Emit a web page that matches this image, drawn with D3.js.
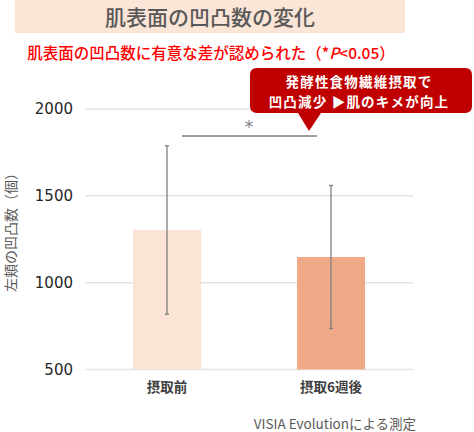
<!DOCTYPE html>
<html><head><meta charset="utf-8">
<script src="https://cdn.jsdelivr.net/npm/d3@7"></script>
<style>body{margin:0;background:#fff;font-family:"Noto Sans CJK JP","Noto Sans",sans-serif}</style>
</head><body><div id="chart"></div>
<script>
const categories = ["摂取前", "摂取6週後"];
const means = [1303, 1148];
const sds = [485, 412];
const yTicks = [500, 1000, 1500, 2000];
const barColors = ["#fbe3d6", "#f0a986"];
const titleText = "肌表面の凹凸数の変化";
const subtitleParts = ["肌表面の凹凸数に有意な差が認められた（*", "P", "<0.05）"];
const calloutLines = ["発酵性食物繊維摂取で", "凹凸減少 ▶肌のキメが向上"];
const yLabel = "左頬の凹凸数（個）";
const footer = "VISIA Evolutionによる測定";

const W = 474, H = 432;
const svg = d3.select("#chart").append("svg").attr("width", W).attr("height", H);
const font = '"Noto Sans CJK JP","Noto Sans",sans-serif';
const numFont = '"DejaVu Sans",sans-serif';

// Title
svg.append("rect").attr("x", 15).attr("y", 0).attr("width", 390).attr("height", 33).attr("fill", "#fbe5d6");
svg.append("text").attr("x", 210).attr("y", 25).attr("text-anchor", "middle")
  .attr("font-family", font).attr("font-size", 21).attr("font-weight", 500).attr("fill", "#595959").text(titleText);

// Subtitle
const st = svg.append("text").attr("x", 211).attr("y", 59).attr("text-anchor", "middle")
  .attr("font-family", font).attr("font-size", 15.5).attr("font-weight", 500).attr("fill", "#ff0000");
st.append("tspan").text(subtitleParts[0]);
st.append("tspan").attr("font-style", "italic").text(subtitleParts[1]);
st.append("tspan").text(subtitleParts[2]);

// Scales
const y = d3.scaleLinear().domain([500, 2000]).range([369.5, 109]);
const x = d3.scaleBand().domain(categories).range([85, 413]).paddingInner(0.585).paddingOuter(0.2925);

// Grid
svg.append("g").selectAll("line").data(yTicks).join("line")
  .attr("x1", 85).attr("x2", 413).attr("y1", d => y(d)).attr("y2", d => y(d))
  .attr("stroke", "#e3e3e3").attr("stroke-width", 1.5);

// Y axis tick labels
const yAxis = d3.axisLeft(y).tickValues(yTicks).tickSize(0).tickPadding(0).tickFormat(d3.format("d"));
const ga = svg.append("g").attr("transform", "translate(73,0)").call(yAxis);
ga.select(".domain").remove();
ga.selectAll("text").attr("font-family", numFont).attr("font-size", 15).attr("fill", "#262626");

// Y label
svg.append("text").attr("transform", "translate(16,229) rotate(-90)").attr("text-anchor", "middle")
  .attr("font-family", font).attr("font-size", 14).attr("fill", "#595959").text(yLabel);

// Bars
svg.append("g").selectAll("rect").data(categories).join("rect")
  .attr("x", d => x(d)).attr("width", x.bandwidth())
  .attr("y", (d, i) => y(means[i])).attr("height", (d, i) => y(500) - y(means[i]))
  .attr("fill", (d, i) => barColors[i]);

// Error bars
const eb = svg.append("g").attr("stroke", "#7f7f7f").attr("stroke-width", 1.3);
categories.forEach((c, i) => {
  const cx = x(c) + x.bandwidth() / 2;
  eb.append("line").attr("x1", cx).attr("x2", cx).attr("y1", y(means[i] + sds[i])).attr("y2", y(means[i] - sds[i]));
  eb.append("line").attr("x1", cx - 2).attr("x2", cx + 2).attr("y1", y(means[i] + sds[i])).attr("y2", y(means[i] + sds[i]));
  eb.append("line").attr("x1", cx - 2).attr("x2", cx + 2).attr("y1", y(means[i] - sds[i])).attr("y2", y(means[i] - sds[i]));
});

// X labels
svg.append("g").selectAll("text").data(categories).join("text")
  .attr("x", d => x(d) + x.bandwidth() / 2).attr("y", 392).attr("text-anchor", "middle")
  .attr("font-family", font).attr("font-size", 13.5).attr("font-weight", 700).attr("fill", "#404040").text(d => d);

// Significance bracket
svg.append("line").attr("x1", 182).attr("x2", 317).attr("y1", 136).attr("y2", 136).attr("stroke", "#404040").attr("stroke-width", 1);
svg.append("text").attr("x", 249).attr("y", 133).attr("text-anchor", "middle")
  .attr("font-family", numFont).attr("font-size", 17).attr("fill", "#7f7f7f").text("*");

// Callout
svg.append("path")
  .attr("d", "M257,68 H465 Q472,68 472,75 V106 Q472,113 465,113 H321 L309,131 L298,113 H257 Q250,113 250,106 V75 Q250,68 257,68 Z")
  .attr("fill", "#c00000");
svg.append("g").selectAll("text").data(calloutLines).join("text")
  .attr("x", 359).attr("y", (d, i) => 87 + i * 19.6).attr("text-anchor", "middle")
  .attr("font-family", font).attr("font-size", 13.5).attr("letter-spacing", 1.2)
  .attr("font-weight", 700).attr("fill", "#fff").text(d => d);

// Footer
svg.append("text").attr("x", 335).attr("y", 429).attr("text-anchor", "middle")
  .attr("font-family", font).attr("font-size", 13.5).attr("fill", "#595959").text(footer);
</script></body></html>
